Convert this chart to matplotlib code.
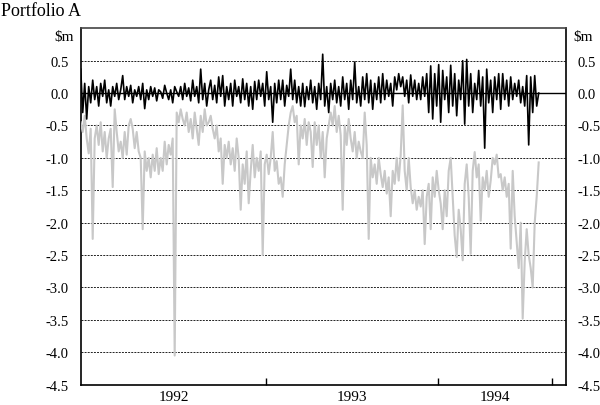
import matplotlib
matplotlib.use("Agg")
import matplotlib.pyplot as plt
import matplotlib.dates as mdates
import numpy as np
import pandas as pd

# ---- data ----
start_date = "1991-12-04"
end_date = "1994-08-03"

grey_values = [
    -0.45, -0.60, -0.35, -0.70, -0.93,
    -0.55, -2.25, -0.70, -0.50, -0.80,
    -0.45, -0.90, -0.60, -1.00, -0.70,
    -0.55, -1.45, -0.25, -0.60, -0.90,
    -0.75, -1.00, -0.60, -0.95, -0.50,
    -0.40, -0.55, -0.85, -0.60, -0.90,
    -1.00, -2.10, -0.90, -1.20, -1.00,
    -1.30, -0.95, -1.20, -0.85, -1.25,
    -1.00, -1.20, -0.75, -1.10, -0.80,
    -0.95, -0.70, -4.05, -0.30, -0.45,
    -0.25, -0.40, -0.50, -0.30, -0.60,
    -0.40, -0.70, -0.30, -0.55, -0.80,
    -0.35, -0.60, -0.25, -0.50, -0.45,
    -0.35, -0.55, -0.70, -0.50, -0.90,
    -0.70, -1.40, -0.80, -1.00, -0.75,
    -1.10, -0.85, -1.20, -0.70, -1.00,
    -1.80, -1.10, -1.40, -0.90, -1.70,
    -1.20, -0.80, -1.30, -1.00, -1.20,
    -0.90, -2.50, -1.10, -0.95, -1.25,
    -1.00, -0.60, -1.20, -1.05, -1.40,
    -1.30, -1.60, -1.10, -0.80, -0.50,
    -0.30, -0.20, -0.45, -0.35, -1.10,
    -0.50, -0.70, -0.40, -0.80, -0.45,
    -0.60, -1.14, -0.45, -0.80, -0.50,
    -1.00, -0.60, -1.30, -0.70, -0.50,
    -0.30, -0.50, -0.20, -0.60, -0.35,
    -0.65, -1.80, -0.50, -0.80, -0.40,
    -0.70, -0.90, -0.60, -1.00, -0.75,
    -0.90, -1.00, -0.30, -0.80, -2.25,
    -1.00, -1.30, -1.10, -1.40, -1.00,
    -1.25, -1.45, -1.20, -1.55, -1.30,
    -1.90, -1.20, -1.40, -1.00, -1.35,
    -0.95, -0.19, -1.20, -1.50, -1.00,
    -1.45, -1.70, -1.50, -1.80, -1.60,
    -1.75, -1.50, -2.33, -1.60, -1.40,
    -2.10, -1.30, -1.60, -1.20, -1.50,
    -1.70, -2.10, -1.50, -1.90, -1.20,
    -1.00, -1.60, -2.20, -2.53, -1.80,
    -2.10, -2.58, -1.40, -1.10, -1.60,
    -2.48, -1.20, -0.91, -1.30, -1.10,
    -1.97, -1.30, -1.50, -1.20, -1.60,
    -1.35, -1.00, -1.10, -0.95, -1.30,
    -1.25, -1.50, -1.30, -1.60, -1.40,
    -2.40, -1.20, -1.90, -2.30, -2.70,
    -2.00, -3.48, -2.60, -2.10, -2.50,
    -2.70, -3.00, -2.00, -1.60, -1.07,
]

black_values = [
    0.37, -0.30, 0.15, -0.40, 0.10,
    -0.15, 0.20, -0.10, 0.10, -0.20,
    0.15, -0.05, 0.20, -0.15, 0.05,
    -0.20, 0.10, -0.05, 0.15, -0.10,
    0.05, 0.27, -0.10, 0.10, -0.05,
    0.12, -0.15, 0.05, -0.05, 0.10,
    -0.10, 0.15, -0.24, 0.05, -0.10,
    0.10, -0.05, 0.08, -0.12, 0.05,
    0.02, -0.08, 0.12, 0.00, -0.10,
    0.05, -0.15, 0.10, 0.02, -0.05,
    0.10, -0.10, 0.15, -0.05, 0.08,
    -0.12, 0.20, -0.05, 0.10, -0.15,
    0.37, -0.10, 0.15, -0.20, 0.05,
    0.20, -0.10, 0.12, -0.15, 0.25,
    -0.05, 0.27, -0.20, 0.10, -0.10,
    0.15, -0.20, 0.20, -0.05, 0.10,
    -0.15, 0.22, -0.10, 0.15, -0.20,
    0.10, -0.25, 0.18, -0.10, 0.20,
    -0.05, 0.15, -0.20, 0.33, -0.10,
    0.10, -0.45, 0.15, -0.15, 0.20,
    -0.10, 0.20, -0.20, 0.12, -0.05,
    0.37, -0.10, 0.20, -0.15, 0.10,
    -0.20, 0.15, -0.21, 0.10, -0.10,
    0.20, -0.15, 0.10, -0.25, 0.15,
    -0.10, 0.60, -0.20, 0.10, -0.30,
    0.15, -0.10, 0.20, -0.15, 0.10,
    -0.20, 0.25, -0.10, 0.15, -0.25,
    0.20, -0.10, 0.48, -0.15, 0.10,
    -0.20, 0.25, -0.10, 0.30, -0.15,
    0.20, -0.25, 0.15, -0.10, 0.25,
    -0.15, 0.30, -0.10, 0.20, -0.05,
    0.15, -0.20, 0.25, 0.05, 0.30,
    0.10, 0.25, -0.05, 0.20, -0.15,
    0.28, -0.05, 0.20, -0.10, 0.15,
    -0.10, 0.25, -0.05, 0.30, -0.30,
    0.42, -0.40, 0.30, -0.20, 0.44,
    -0.45, 0.35, -0.10, 0.25, -0.30,
    0.43, -0.20, 0.30, -0.35, 0.20,
    -0.10, 0.50, -0.48, 0.52, -0.20,
    0.30, -0.30, 0.15, -0.10, 0.35,
    -0.20, 0.25, -0.85, 0.37, -0.15,
    0.20, -0.30, 0.25, -0.10, 0.30,
    -0.25, 0.30, -0.10, 0.20, -0.20,
    0.25, -0.10, 0.15, -0.05, 0.20,
    -0.15, 0.10, -0.20, 0.27, -0.80,
    0.25, -0.30, 0.27, -0.20, 0.00,
]

y_ticks = [0.5, 0.0, -0.5, -1.0, -1.5, -2.0, -2.5, -3.0, -3.5, -4.0, -4.5]
year_labels = ["1992", "1993", "1994"]
year_ticks = ["1993-01-01", "1994-01-01", "1994-09-01"]
x_limits = ["1991-12-04", "1994-09-30"]

# ---- figure ----
plt.rcParams["font.family"] = ["Liberation Serif", "DejaVu Serif"]
fig = plt.figure(figsize=(6.0, 4.06), dpi=100)
ax = fig.add_axes([80.7 / 600, 1 - 385.7 / 406, (566 - 80.7) / 600, (385.7 - 29.3) / 406])

dates_g = pd.date_range(start_date, end_date, periods=len(grey_values))
dates_b = pd.date_range(start_date, end_date, periods=len(black_values))

for v in y_ticks:
    if v == 0.0 or v == -4.5:
        continue
    ax.axhline(v, color="#222222", lw=0.7, ls=(0, (2, 1.2)), zorder=1)
ax.axhline(0.0, color="black", lw=1.0, zorder=2)

ax.plot(dates_g, grey_values, color="#c8c8c8", lw=1.5, zorder=3)
ax.plot(dates_b, black_values, color="black", lw=1.2, zorder=4)

xl = [mdates.datestr2num(d) for d in x_limits]
ax.set_xlim(xl)
ax.set_ylim(-4.5, 1.0)

ax.set_yticks(y_ticks)
ax.set_yticklabels([f"{v:.1f}".replace("\u2212", "-") for v in y_ticks])
ax.tick_params(axis="y", left=False, right=False, labelleft=True, labelright=True,
               labelsize=10.5, pad=5)

maj = [mdates.datestr2num(d) for d in year_ticks]
ax.set_xticks(maj)
ax.set_xticklabels([])
ax.tick_params(axis="x", which="major", direction="in", length=5, width=1.0)
bounds = [xl[0]] + maj
mids = [(bounds[i] + bounds[i + 1]) / 2 for i in range(len(year_labels))]
ax.set_xticks(mids, minor=True)
ax.set_xticklabels(year_labels, minor=True)
ax.tick_params(axis="x", which="minor", length=0, labelsize=11, pad=4)

for s in ax.spines.values():
    s.set_linewidth(1.2)
    s.set_color("black")
ax.spines["top"].set_color("#444444")

fig.text(1 / 600, 1 - 11 / 406, "Portfolio A", ha="left", va="center", fontsize=13)
fig.text(74 / 600, 1 - 37 / 406, "$m", ha="right", va="center", fontsize=11)
fig.text(573 / 600, 1 - 37 / 406, "$m", ha="left", va="center", fontsize=11)

fig.savefig("out.png", dpi=100)
